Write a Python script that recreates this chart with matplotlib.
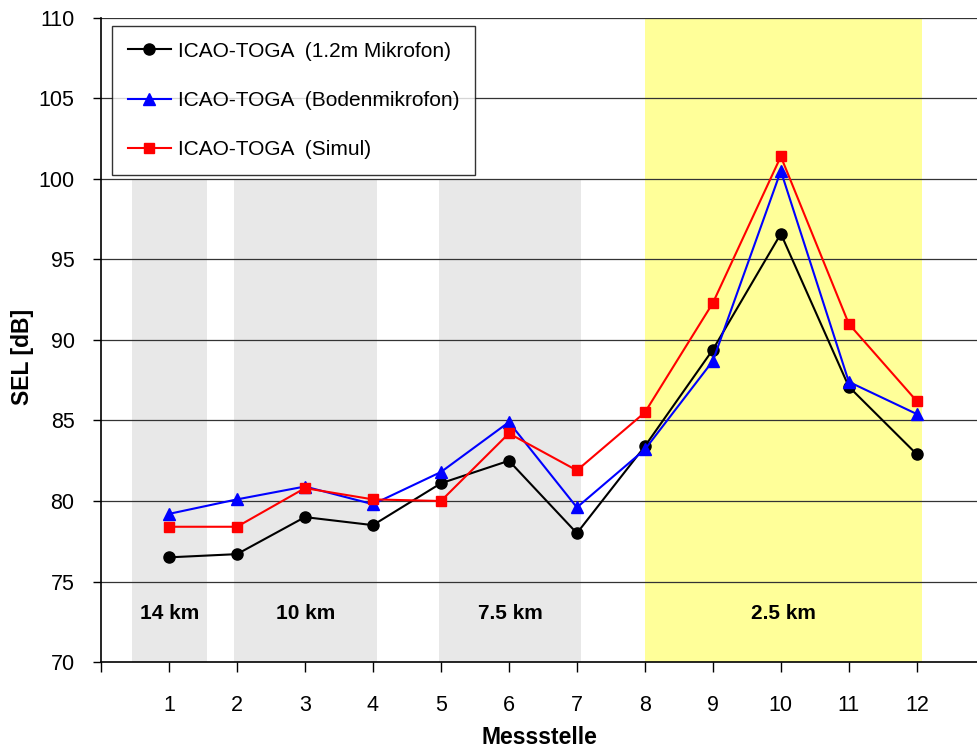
import matplotlib.pyplot as plt
import numpy as np

plt.rcParams['font.family'] = ['Liberation Sans', 'DejaVu Sans']

# Messstellen und SEL-Werte [dB]
messstelle = np.arange(1, 13)
sel_mikrofon = [76.5, 76.7, 79.0, 78.5, 81.1, 82.5, 78.0, 83.4, 89.4, 96.6, 87.1, 82.9]
sel_boden = [79.2, 80.1, 80.9, 79.8, 81.8, 84.9, 79.6, 83.2, 88.7, 100.5, 87.4, 85.4]
sel_simul = [78.4, 78.4, 80.8, 80.1, 80.0, 84.2, 81.9, 85.5, 92.3, 101.4, 91.0, 86.2]

# Entfernungsbereiche (Start, Ende, Beschriftung, Farbe, Oberkante)
bereich_start = [0.46, 1.96, 4.97, 8.0]
bereich_ende = [1.56, 4.06, 7.06, 12.07]
bereich_label = ['14 km', '10 km', '7.5 km', '2.5 km']
bereich_farbe = ['#e8e8e8', '#e8e8e8', '#e8e8e8', '#ffff99']
bereich_oben = [100, 100, 100, 110]

fig = plt.figure(figsize=(9.78, 7.51), dpi=100)
ax = fig.add_axes([101 / 978, 1 - 662 / 751, 877 / 978, 644 / 751])

for x0, x1, lab, col, top in zip(bereich_start, bereich_ende, bereich_label, bereich_farbe, bereich_oben):
    ax.fill_between([x0, x1], 70, top, color=col, lw=0, zorder=0)
    ax.text((x0 + x1) / 2, 73.0, lab, ha='center', va='center',
            fontsize=15, fontweight='bold', zorder=3)

# horizontale Gitterlinien
for y in range(75, 111, 5):
    ax.axhline(y, color='#333333', lw=0.9, zorder=1)

ax.plot(messstelle, sel_mikrofon, color='black', marker='o', ms=8, lw=1.5,
        label='ICAO-TOGA  (1.2m Mikrofon)', zorder=4)
ax.plot(messstelle, sel_boden, color='blue', marker='^', ms=9, lw=1.5,
        label='ICAO-TOGA  (Bodenmikrofon)', zorder=4)
ax.plot(messstelle, sel_simul, color='red', marker='s', ms=6.5, lw=1.5,
        label='ICAO-TOGA  (Simul)', zorder=4)

ax.set_xlim(0, 12.9)
ax.set_ylim(70, 110)
ax.set_xticks(np.arange(0, 13))
ax.set_xticklabels([''] + [str(i) for i in messstelle])
ax.set_yticks(np.arange(70, 111, 5))
ax.tick_params(axis='x', direction='out', length=7, width=1, pad=16.5, labelsize=15.5)
ax.tick_params(axis='y', direction='out', length=6, width=1, pad=13, labelsize=15.5)

for side in ['top', 'right']:
    ax.spines[side].set_visible(False)
ax.spines['left'].set_linewidth(1.2)
ax.spines['bottom'].set_linewidth(1.2)

ax.set_xlabel('Messstelle', fontsize=16.5, fontweight='bold', va='center')
ax.xaxis.set_label_coords(0.5, -0.118)
ax.set_ylabel('SEL [dB]', fontsize=16.5, fontweight='bold', va='center')
ax.yaxis.set_label_coords(-0.09, 0.474)

leg = ax.legend(loc='upper left', bbox_to_anchor=(0.0125, 0.9876), borderaxespad=0,
                fontsize=15, frameon=True, fancybox=False, handlelength=2.1,
                labelspacing=1.45, borderpad=0.75, handletextpad=0.3)
leg.get_frame().set_edgecolor('black')
leg.get_frame().set_linewidth(1.0)
leg.set_zorder(5)

fig.savefig('out.png', dpi=100)
